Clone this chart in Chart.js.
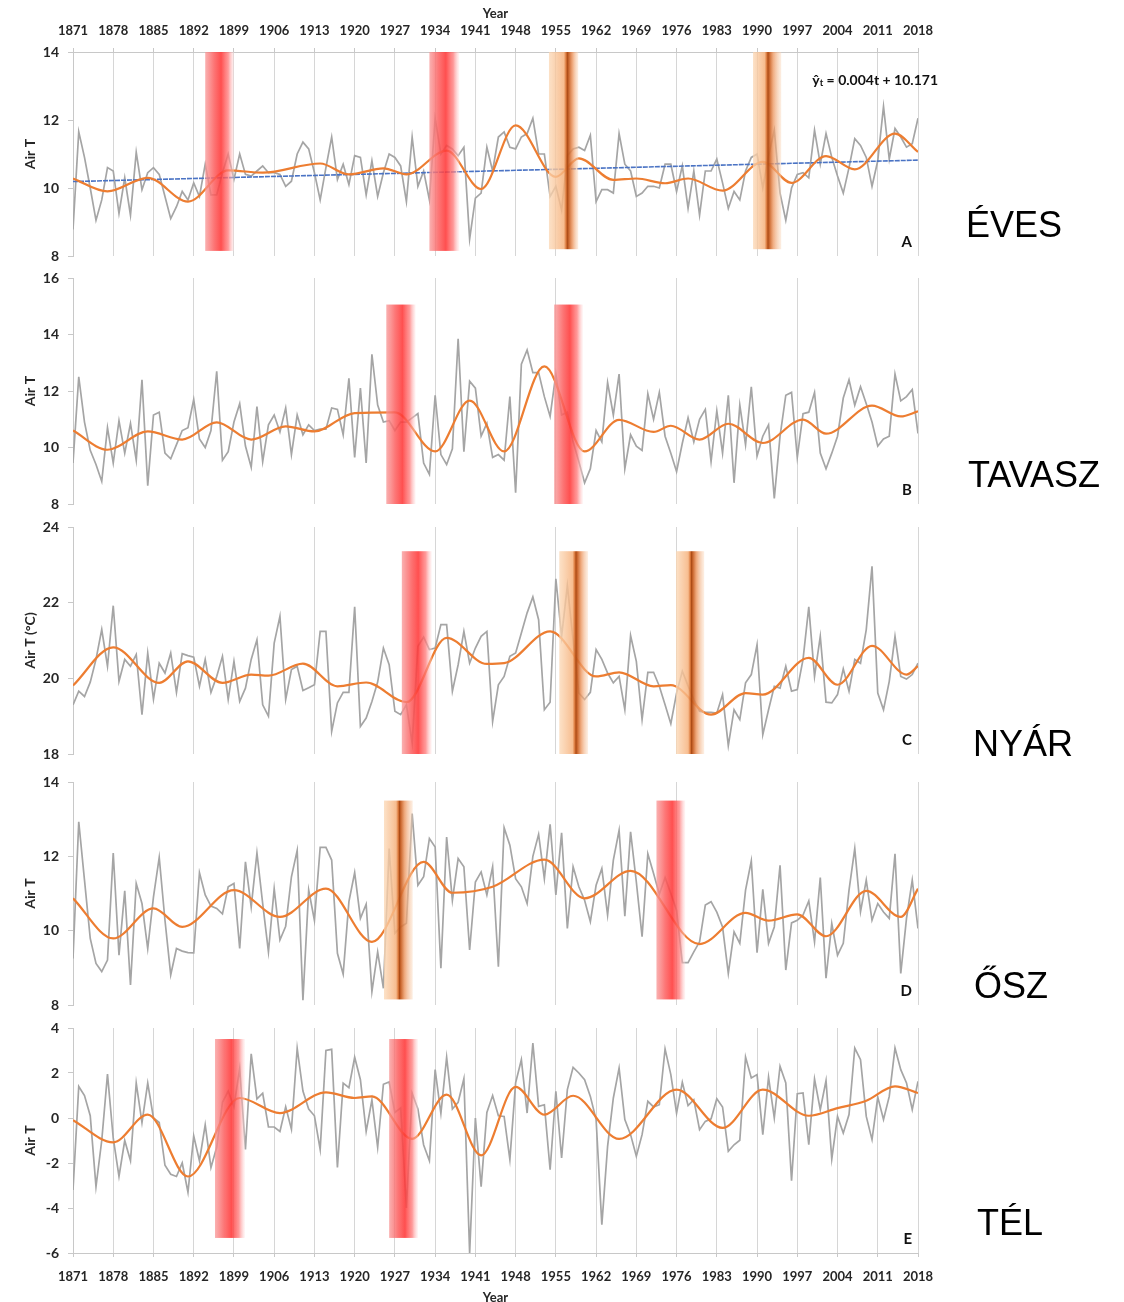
<!DOCTYPE html>
<html><head><meta charset="utf-8">
<script src="https://cdn.jsdelivr.net/npm/chart.js@4.4.1/dist/chart.umd.min.js"></script>
<style>
html,body{margin:0;padding:0;background:#fff;}
body{width:1124px;height:1302px;position:relative;overflow:hidden;}
.panel{position:absolute;left:0;width:1124px;}
.panel canvas{display:block;}
.season{position:absolute;font-family:"Liberation Sans",Arial,sans-serif;font-size:36px;line-height:36px;color:#000;white-space:nowrap;}
</style></head><body>
<div class="panel" style="top:0;height:262px"><canvas id="cA" width="1124" height="262" style="width:1124px;height:262px"></canvas></div>
<div class="panel" style="top:266px;height:244px"><canvas id="cB" width="1124" height="244" style="width:1124px;height:244px"></canvas></div>
<div class="panel" style="top:515px;height:245px"><canvas id="cC" width="1124" height="245" style="width:1124px;height:245px"></canvas></div>
<div class="panel" style="top:768px;height:244px"><canvas id="cD" width="1124" height="244" style="width:1124px;height:244px"></canvas></div>
<div class="panel" style="top:1016px;height:290px"><canvas id="cE" width="1124" height="290" style="width:1124px;height:290px"></canvas></div>
<div class="season" style="left:966px;top:207px">ÉVES</div>
<div class="season" style="left:968px;top:457px">TAVASZ</div>
<div class="season" style="left:973px;top:726px">NYÁR</div>
<div class="season" style="left:974px;top:968px">ŐSZ</div>
<div class="season" style="left:977px;top:1205px">TÉL</div>
<script>
// ---------------- DATA ----------------
const firstYear = 1871;
const lastYear = 2018;
const tickYears = [1871,1878,1885,1892,1899,1906,1913,1920,1927,1934,1941,1948,1955,1962,1969,1976,1983,1990,1997,2004,2011,2018];
const sparseGridYears = [1871,1892,1913,1934,1955,1976,1997,2018];

// A – annual (ÉVES)
const annualA = [
 8.78,11.65,10.9,10.0,9.05,9.65,10.6,10.5,9.25,10.3,
 9.2,11.05,9.95,10.45,10.6,10.4,9.75,9.1,9.45,9.9,
 9.65,10.15,9.75,10.7,9.8,9.8,10.45,11.0,10.25,11.0,
 10.4,10.35,10.5,10.65,10.45,10.45,10.4,10.05,10.2,11.0,
 11.35,11.15,10.45,9.65,10.6,11.5,10.25,10.7,10.1,10.95,
 10.9,9.8,10.8,9.75,10.45,11.0,10.9,10.65,9.6,11.5,
 10.05,10.5,9.65,12.05,11.0,11.25,11.15,10.95,11.2,8.5,
 9.7,9.85,11.2,10.5,11.5,11.65,11.2,11.15,11.5,11.6,
 12.05,11.0,11.0,9.75,10.05,9.35,10.95,11.15,11.2,11.1,
 11.55,9.6,9.95,9.95,9.85,11.6,10.7,10.5,9.75,9.85,
 10.05,10.05,10.0,10.7,10.7,9.9,10.65,9.4,10.5,9.2,
 10.5,10.5,10.85,10.15,9.4,9.9,9.65,10.5,10.9,11.0,
 10.0,10.95,11.7,9.85,9.05,10.0,10.4,10.45,10.3,11.7,
 10.7,11.6,10.9,10.35,9.85,10.6,11.45,11.25,10.9,10.05,
 10.8,12.4,10.85,11.75,11.5,11.2,11.3,12.05
];
const smoothYearsA = [1871,1877,1884,1891,1898,1904,1914,1919,1925,1929,1936,1942,1948,1955,1959,1965,1969,1974,1978,1984,1991,1996,2002,2007,2014,2018];
const smoothA =      [10.28,9.9,10.3,9.6,10.52,10.45,10.72,10.4,10.58,10.4,11.1,9.97,11.84,10.33,10.87,10.24,10.28,10.14,10.28,9.92,10.77,10.15,10.94,10.55,11.6,11.06];
const trendYearsA = [1871, 2018];
const trendA = [10.19, 10.82];

// B – spring (TAVASZ)
const annualB = [
 9.45,12.5,10.9,9.9,9.4,8.8,10.7,9.45,10.95,9.8,
 10.85,9.55,12.4,8.65,11.15,11.25,9.8,9.6,10.1,10.6,
 10.7,11.7,10.3,10.0,10.6,12.7,9.55,9.85,10.9,11.55,
 10.05,9.3,11.45,9.5,10.8,11.15,10.55,11.4,9.75,11.15,
 10.45,10.8,10.6,10.65,10.65,11.4,11.35,10.45,12.45,9.65,
 12.1,9.45,13.3,11.5,10.9,10.95,10.6,10.9,10.9,11.05,
 11.2,9.45,9.05,11.85,9.75,9.4,9.95,13.85,9.85,12.35,
 12.1,10.4,10.85,9.65,9.75,9.55,11.8,8.4,12.95,13.45,
 12.65,12.65,11.8,11.1,12.6,11.15,11.25,10.2,9.5,8.75,
 9.25,10.6,10.2,12.3,11.15,12.6,9.25,10.45,10.05,9.9,
 11.9,11.0,11.95,10.4,9.8,9.15,10.15,11.05,10.2,11.0,
 11.35,9.5,11.3,9.8,11.85,8.75,11.5,10.1,12.15,9.7,
 10.4,10.8,8.2,10.4,11.85,11.95,9.65,11.2,11.25,11.95,
 9.8,9.25,9.8,10.4,11.75,12.4,11.5,12.15,11.55,10.9,
 10.05,10.3,10.4,12.6,11.65,11.8,12.05,10.5
];
const smoothYearsB = [1871,1877,1884,1890,1896,1902,1908,1913,1920,1927,1934,1940,1946,1953,1960,1966,1972,1975,1980,1985,1991,1998,2002,2010,2015,2018];
const smoothB =      [10.6,9.92,10.57,10.28,10.89,10.28,10.75,10.57,11.22,11.24,9.86,11.66,9.86,12.87,9.86,10.98,10.55,10.77,10.28,10.84,10.16,10.99,10.49,11.48,11.1,11.28];

// C – summer (NYÁR)
const annualC = [
 19.3,19.66,19.52,19.9,20.5,21.29,20.32,21.92,19.92,20.5,20.32,20.63,19.04,20.67,19.45,20.4,20.14,20.67,19.63,20.65,20.6,20.56,
 19.79,20.5,19.63,20.05,20.58,19.44,20.45,19.39,19.74,20.5,21.02,19.3,19.0,20.93,21.64,19.44,20.23,20.32,19.68,19.75,19.83,
 21.24,21.24,18.6,19.35,19.63,19.63,21.89,18.73,18.95,19.39,19.9,20.8,20.36,19.13,19.04,19.3,18.29,20.85,21.09,20.76,20.8,
 21.42,21.42,19.66,20.36,21.24,20.4,20.8,21.11,21.24,
 18.86,19.83,20.05,20.58,20.67,21.2,21.73,22.15,21.55,19.17,19.37,
 22.63,21.11,22.45,21.02,19.61,19.44,19.63,20.76,20.5,20.14,19.88,20.05,19.17,21.13,20.45,18.91,20.16,20.16,19.79,19.3,18.8,19.61,
 20.19,19.8,19.44,19.13,19.1,19.1,19.08,19.57,18.22,19.17,18.91,19.88,20.1,20.89,18.51,19.17,19.79,19.74,20.32,19.66,19.7,
 20.5,21.89,20.05,21.11,19.37,19.35,19.57,20.25,19.66,20.5,20.4,21.29,22.96,19.61,19.17,19.92,21.11,20.05,19.98,20.1,20.4
];
const smoothYearsC = [1871,1878,1886,1891,1897,1902,1905,1911,1917,1922,1929,1936,1943,1946,1954,1962,1966,1972,1975,1982,1988,1991,1999,2004,2010,2016,2018];
const smoothC =      [19.81,20.82,19.88,20.45,19.88,20.1,20.07,20.39,19.79,19.89,19.37,21.07,20.38,20.4,21.24,20.05,20.16,19.79,19.82,19.04,19.61,19.57,20.54,19.83,20.86,20.1,20.32];

// D – autumn (ŐSZ)
const annualD = [
 9.25,12.93,11.36,9.79,9.12,8.9,9.21,12.09,9.34,11.07,8.54,11.27,10.73,9.52,10.91,11.97,10.28,8.81,9.52,9.45,9.41,9.4,
 11.56,10.96,10.66,10.6,10.45,11.18,11.27,9.52,11.85,10.64,12.09,10.73,9.43,11.13,9.75,10.12,11.45,12.16,8.13,11.09,10.28,
 12.24,12.24,11.9,9.39,8.83,10.78,11.56,10.33,10.71,8.36,9.43,8.45,12.21,9.93,10.1,10.2,13.15,11.22,11.45,12.48,12.25,
 8.99,12.52,10.82,11.94,11.72,9.48,11.31,11.58,10.96,11.72,9.03,12.77,12.3,11.4,11.18,10.73,12.0,12.59,11.4,12.86,
 10.96,12.63,10.06,11.72,11.18,10.82,10.24,11.22,11.67,10.42,11.9,12.7,10.39,12.66,11.31,9.84,12.07,11.54,10.98,11.43,11.0,10.55,
 9.14,9.14,9.43,9.7,10.69,10.78,10.5,10.1,8.85,9.97,9.66,11.09,11.88,9.41,11.11,9.66,10.1,11.76,8.94,10.21,10.28,
 10.42,10.8,9.7,11.43,8.72,10.19,9.34,9.66,11.09,12.21,10.51,11.36,10.28,10.73,10.5,10.33,12.07,8.85,10.33,11.36,10.06
];
const smoothYearsD = [1871,1878,1885,1890,1899,1907,1915,1923,1932,1937,1944,1953,1960,1968,1980,1988,1992,1997,2002,2009,2015,2018];
const smoothD =      [10.87,9.79,10.6,10.1,11.09,10.37,11.13,9.7,11.85,11.02,11.18,11.91,10.87,11.61,9.64,10.48,10.27,10.44,9.85,11.07,10.37,11.13];

// E – winter (TÉL)
const annualE = [
 -3.2,1.4,1.0,0.1,-3.05,-1.0,1.95,-0.9,-2.6,-1.0,-1.9,1.55,-0.2,1.55,0.0,-0.2,-2.1,-2.5,-2.6,-2.0,-3.3,-0.8,
 -1.9,-0.3,-2.2,-1.3,0.7,1.2,0.5,
 2.2,-1.4,2.85,0.85,1.1,-0.4,-0.4,
 -0.6,0.5,-0.5,3.1,1.2,0.4,0.1,
 -1.4,3.0,3.05,-2.2,1.55,1.35,2.7,
 1.7,-0.6,0.8,-1.3,1.5,1.6,0.25,
 0.45,-4.0,1.1,0.4,-1.2,-1.9,2.15,
 0.2,2.7,0.4,0.7,1.75,-6.0,0.0,
 -3.05,0.25,1.0,0.1,0.07,-1.85,
 1.56,2.59,0.22,3.33,0.52,0.59,-2.3,1.19,
 -1.78,1.26,2.25,2.0,1.7,0.96,-0.07,
 -4.74,-1.26,0.89,2.22,-0.07,-0.74,-1.7,
 -0.74,0.74,0.49,0.59,3.07,1.93,0.22,
 1.59,0.55,0.81,-0.52,-0.15,-0.04,0.86,
 0.49,-1.48,-1.19,-0.99,2.71,1.78,1.93,
 -0.74,1.82,0.0,2.3,1.56,-2.79,1.08,
 1.11,-1.19,1.73,0.37,1.66,-1.82,0.07,
 -0.67,0.15,3.11,2.59,0.07,-0.96,0.93,
 -0.07,0.96,3.11,2.15,1.56,0.37,1.63
];
const smoothYearsE = [1871,1878,1884,1891,1900,1907,1915,1920,1923,1930,1936,1942,1948,1953,1958,1966,1976,1984,1991,1999,2004,2009,2014,2018];
const smoothE =      [-0.1,-1.08,0.15,-2.6,0.89,0.22,1.14,0.89,0.96,-0.93,1.04,-1.66,1.38,0.15,0.99,-0.93,1.26,-0.44,1.26,0.1,0.44,0.77,1.41,1.11];

// shifts (bands): from/to year, dark stripe year, value extent
const bandsA = [
 {kind:'red', from:1894, to:1899, top:14, bottom:8.15},
 {kind:'red', from:1933, to:1938.2, top:14, bottom:8.15},
 {kind:'orange', from:1953.8, to:1958.9, dark:1957, top:14, bottom:8.2},
 {kind:'orange', from:1989.3, to:1994.2, dark:1991.9, top:14, bottom:8.2}
];
const bandsB = [
 {kind:'red', from:1925.5, to:1930.6, top:15.06, bottom:8},
 {kind:'red', from:1954.7, to:1959.7, top:15.06, bottom:8}
];
const bandsC = [
 {kind:'red', from:1928.2, to:1933.4, top:23.36, bottom:18},
 {kind:'orange', from:1955.6, to:1960.6, dark:1958.5, top:23.36, bottom:18},
 {kind:'orange', from:1975.9, to:1980.8, dark:1978.6, top:23.36, bottom:18}
];
const bandsD = [
 {kind:'orange', from:1925.1, to:1930.1, dark:1927.8, top:13.5, bottom:8.15},
 {kind:'red', from:1972.5, to:1977.5, top:13.5, bottom:8.15}
];
const bandsE = [
 {kind:'red', from:1895.7, to:1900.9, top:3.51, bottom:-5.33},
 {kind:'red', from:1926, to:1931, top:3.51, bottom:-5.33}
];

// ---------------- DRAWING ----------------
const yearsList = annualA.map((_, i) => firstYear + i);
const FONT = 'Lato, "Open Sans", sans-serif';
const TXT = '#262626';

const bandPlugin = {
  id: 'bands',
  afterDatasetsDraw(chart, args, opts) {
    const {ctx, scales: {x, y}} = chart;
    (opts.bands || []).forEach(b => {
      const x0 = x.getPixelForValue(b.from), x1 = x.getPixelForValue(b.to);
      const y0 = y.getPixelForValue(b.top), y1 = y.getPixelForValue(b.bottom);
      const g = ctx.createLinearGradient(x0, 0, x1, 0);
      if (b.kind === 'red') {
        g.addColorStop(0, 'rgba(248,150,150,0.75)');
        g.addColorStop(0.3, 'rgba(252,95,95,0.85)');
        g.addColorStop(0.55, 'rgba(255,55,55,0.88)');
        g.addColorStop(0.8, 'rgba(255,120,120,0.75)');
        g.addColorStop(1, 'rgba(255,225,225,0.35)');
      } else {
        const p = Math.min(0.9, Math.max(0.1, (b.dark - b.from) / (b.to - b.from)));
        g.addColorStop(0, 'rgba(251,215,180,0.75)');
        g.addColorStop(p - 0.12, 'rgba(246,178,125,0.85)');
        g.addColorStop(p - 0.04, 'rgba(215,110,45,0.95)');
        g.addColorStop(p, 'rgba(170,72,18,0.98)');
        g.addColorStop(p + 0.05, 'rgba(200,95,35,0.95)');
        g.addColorStop(Math.min(0.99, p + 0.18), 'rgba(236,150,95,0.8)');
        g.addColorStop(1, 'rgba(250,215,185,0.4)');
      }
      ctx.save();
      ctx.fillStyle = g;
      ctx.fillRect(x0, y0, x1 - x0, y1 - y0);
      ctx.restore();
    });
  },
  afterDraw(chart, args, opts) {
    const {ctx, chartArea, scales: {x, y}} = chart;
    ctx.save();
    ctx.fillStyle = '#111';
    ctx.font = 'bold 15px ' + FONT;
    ctx.textAlign = 'right';
    ctx.textBaseline = 'alphabetic';
    ctx.fillText(opts.letter, chartArea.right - 6, chartArea.bottom - 9);
    if (opts.equation) {
      const ex = chartArea.right + 20;
      const ey = y.getPixelForValue(opts.equation.y) + 5;
      ctx.font = 'bold 14px ' + FONT;
      const rest = ' = 0.004t + 10.171';
      const wRest = ctx.measureText(rest).width;
      ctx.textAlign = 'left';
      ctx.fillText(rest, ex - wRest, ey);
      ctx.font = 'bold 9.5px ' + FONT;
      const wT = ctx.measureText('t').width;
      ctx.fillText('t', ex - wRest - wT, ey + 1);
      ctx.font = 'bold 14px ' + FONT;
      const wY = ctx.measureText('ŷ').width;
      ctx.fillText('ŷ', ex - wRest - wT - wY, ey);
    }
    ctx.restore();
  }
};

function makePanel(id, cfg) {
  const datasets = [
    {label: 'smooth', data: cfg.smoothYears.map((yr, i) => ({x: yr, y: cfg.smooth[i]})),
     borderColor: '#ed7d31', borderWidth: 2.2, pointRadius: 0, cubicInterpolationMode: 'monotone', order: 0},
    {label: 'annual', data: yearsList.map((yr, i) => ({x: yr, y: cfg.annual[i]})),
     borderColor: '#a5a5a5', borderWidth: 1.7, pointRadius: 0, tension: 0, order: 2}
  ];
  if (cfg.trend) {
    datasets.push({label: 'trend', data: cfg.trend.years.map((yr, i) => ({x: yr, y: cfg.trend.values[i]})),
      borderColor: '#4a73c4', borderWidth: 1.6, borderDash: [5, 1], pointRadius: 0, order: 1});
  }
  const showX = cfg.xPos !== null;
  const xTicksArr = showX ? tickYears : sparseGridYears;
  new Chart(document.getElementById(id), {
    type: 'line',
    data: {datasets},
    plugins: [bandPlugin],
    options: {
      responsive: false, animation: false, devicePixelRatio: 1,
      layout: {padding: cfg.padding},
      plugins: {legend: {display: false}, tooltip: {enabled: false},
        bands: {bands: cfg.bands, letter: cfg.letter, equation: cfg.equation}},
      scales: {
        x: {
          type: 'linear', min: firstYear, max: lastYear,
          position: showX ? cfg.xPos : 'bottom',
          afterBuildTicks: s => { s.ticks = xTicksArr.map(v => ({value: v})); },
          afterFit: s => { s.height = cfg.xHeight; s.paddingLeft = 0; s.paddingRight = 0; },
          ticks: {display: showX, autoSkip: false, maxRotation: 0, minRotation: 0,
                  padding: cfg.xTickPad || 3, color: TXT,
                  font: {family: FONT, weight: 'bold', size: 13},
                  callback: v => String(v)},
          grid: {color: '#d6d6d6', lineWidth: 1, drawTicks: showX, tickLength: 4, tickColor: '#c8c8c8'},
          border: {display: showX, color: '#c8c8c8'},
          title: {display: showX, text: 'Year', color: TXT,
                  font: {family: FONT, weight: 'bold', size: 13},
                  padding: cfg.xTitlePad || {top: 0, bottom: 0}}
        },
        y: {
          min: cfg.yMin, max: cfg.yMax,
          afterFit: s => { s.width = 73; s.paddingTop = 0; s.paddingBottom = 0; },
          ticks: {stepSize: 2, padding: 9, color: TXT, font: {family: FONT, weight: 'bold', size: 14}},
          grid: {drawOnChartArea: false, drawTicks: true, tickLength: 5, color: '#c8c8c8'},
          border: {display: true, color: '#c8c8c8'},
          title: {display: true, text: cfg.yTitle, color: TXT,
                  font: {family: FONT, weight: 'bold', size: 14}, padding: {top: 22, bottom: 0}}
        }
      }
    }
  });
}

makePanel('cA', {annual: annualA, smoothYears: smoothYearsA, smooth: smoothA, bands: bandsA, letter: 'A',
  trend: {years: trendYearsA, values: trendA}, equation: {y: 13.18},
  yMin: 8, yMax: 14, yTitle: 'Air T', xPos: 'top', xHeight: 52, xTickPad: 9, xTitlePad: {top: 6, bottom: 0},
  padding: {left: 0, right: 206, top: 0, bottom: 6}});
makePanel('cB', {annual: annualB, smoothYears: smoothYearsB, smooth: smoothB, bands: bandsB, letter: 'B',
  yMin: 8, yMax: 16, yTitle: 'Air T', xPos: null, xHeight: 0,
  padding: {left: 0, right: 206, top: 12, bottom: 6}});
makePanel('cC', {annual: annualC, smoothYears: smoothYearsC, smooth: smoothC, bands: bandsC, letter: 'C',
  yMin: 18, yMax: 24, yTitle: 'Air T (°C)', xPos: null, xHeight: 0,
  padding: {left: 0, right: 206, top: 12, bottom: 6}});
makePanel('cD', {annual: annualD, smoothYears: smoothYearsD, smooth: smoothD, bands: bandsD, letter: 'D',
  yMin: 8, yMax: 14, yTitle: 'Air T', xPos: null, xHeight: 0,
  padding: {left: 0, right: 206, top: 14, bottom: 7}});
makePanel('cE', {annual: annualE, smoothYears: smoothYearsE, smooth: smoothE, bands: bandsE, letter: 'E',
  yMin: -6, yMax: 4, yTitle: 'Air T', xPos: 'bottom', xHeight: 53, xTickPad: 12, xTitlePad: {top: 0, bottom: 0},
  padding: {left: 0, right: 206, top: 12, bottom: 0}});
</script>
</body></html>
